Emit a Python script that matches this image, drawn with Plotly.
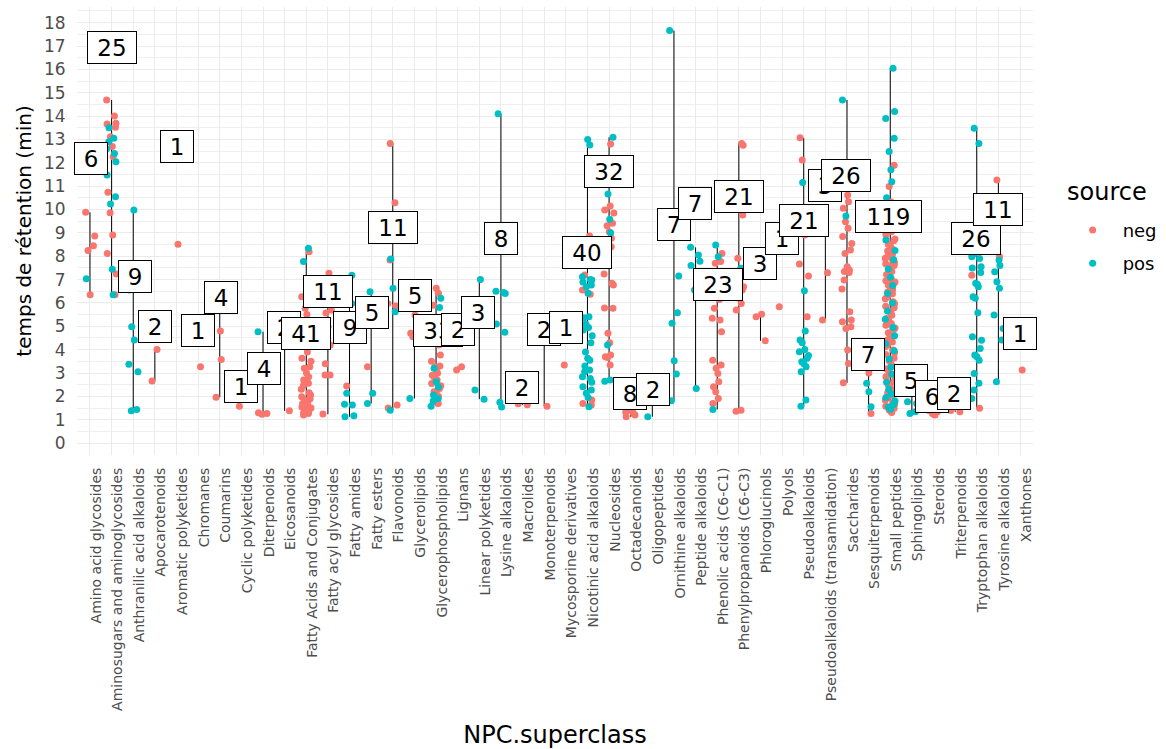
import plotly.graph_objects as go

# ---------------- data ----------------
CATEGORIES = [
    "Amino acid glycosides", "Aminosugars and aminoglycosides", "Anthranilic acid alkaloids",
    "Apocarotenoids", "Aromatic polyketides", "Chromanes", "Coumarins", "Cyclic polyketides",
    "Diterpenoids", "Eicosanoids", "Fatty Acids and Conjugates", "Fatty acyl glycosides",
    "Fatty amides", "Fatty esters", "Flavonoids", "Glycerolipids", "Glycerophospholipids",
    "Lignans", "Linear polyketides", "Lysine alkaloids", "Macrolides", "Monoterpenoids",
    "Mycosporine derivatives", "Nicotinic acid alkaloids", "Nucleosides", "Octadecanoids",
    "Oligopeptides", "Ornithine alkaloids", "Peptide alkaloids", "Phenolic acids (C6-C1)",
    "Phenylpropanoids (C6-C3)", "Phloroglucinols", "Polyols", "Pseudoalkaloids",
    "Pseudoalkaloids (transamidation)", "Saccharides", "Sesquiterpenoids", "Small peptides",
    "Sphingolipids", "Steroids", "Triterpenoids", "Tryptophan alkaloids", "Tyrosine alkaloids",
    "Xanthones",
]

COUNTS = [6, 25, 9, 2, 1, 1, 4, 1, 4, 2, 41, 11, 9, 5, 11, 5, 33, 2, 3, 8, 2, 2, 1, 40, 32, 8,
          2, 7, 7, 23, 21, 3, 1, 21, 3, 26, 7, 119, 5, 6, 2, 26, 11, 1]

# retention times (min), source = neg
NEG_RT = [
    [9.88, 8.87, 8.45, 8.24, 6.35],
    [14.69, 14.0, 13.69, 13.66, 13.52, 13.12, 12.7, 12.26, 10.74, 9.86, 8.91, 8.12, 7.24, 6.35],
    [],
    [4.01, 2.66],
    [8.51],
    [3.27],
    [6.34, 4.8, 3.58, 1.96],
    [1.58],
    [1.3, 1.27, 1.23],
    [1.38],
    [8.19, 6.8, 6.27, 6.05, 5.77, 5.5, 5.0, 4.7, 4.4, 3.9, 3.63, 3.5, 3.27, 3.2, 3.0, 2.84, 2.7,
     2.56, 2.48, 2.3, 2.15, 2.06, 1.98, 1.9, 1.84, 1.78, 1.7, 1.7, 1.63, 1.6, 1.55, 1.5, 1.49,
     1.45, 1.4, 1.34, 1.3, 1.27, 1.2],
    [7.27, 6.84, 6.0, 5.7, 5.57, 4.98, 4.2, 3.4, 2.91, 2.91, 1.24],
    [2.44],
    [3.27],
    [12.83, 10.29, 7.84, 5.98, 5.87, 1.63, 1.5],
    [5.48, 4.77, 4.7, 4.55],
    [6.63, 6.41, 5.9, 5.3, 4.8, 4.6, 4.2, 3.77, 3.5, 3.3, 3.27, 3.1, 2.99, 2.9, 2.8, 2.7, 2.55,
     2.45, 2.34, 2.2, 2.14, 2.0, 1.77, 1.7],
    [3.27, 3.13],
    [],
    [],
    [1.68, 1.64],
    [5.05, 1.58],
    [3.34],
    [8.87, 7.2, 6.55, 6.37, 1.85, 1.7, 1.63],
    [12.8, 11.7, 11.12, 10.15, 9.98, 9.85, 9.41, 9.3, 9.05, 8.77, 8.7, 8.41, 7.7, 7.24, 6.84,
     6.77, 5.78, 5.77, 4.7, 4.3, 3.77, 3.7, 3.66, 3.34],
    [1.8, 1.63, 1.5, 1.4, 1.33, 1.27, 1.2, 1.13],
    [],
    [],
    [],
    [8.12, 7.77, 7.7, 7.0, 6.5, 6.27, 6.15, 5.77, 5.34, 5.27, 4.77, 3.55, 3.34, 3.2, 2.98, 2.63,
     2.41, 2.2, 1.91, 1.7],
    [12.83, 12.75, 10.09, 9.76, 7.91, 7.41, 7.3, 7.12, 7.0, 6.91, 6.8, 6.69, 6.55, 6.41, 6.2,
     5.98, 5.7, 1.41, 1.36],
    [5.52, 5.41, 4.38],
    [5.84],
    [13.07, 12.12, 8.91, 7.67, 7.15, 5.41],
    [9.52, 7.29, 5.27],
    [10.62, 10.33, 10.05, 9.48, 9.2, 8.84, 8.55, 8.27, 8.12, 7.55, 7.41, 7.35, 7.3, 6.98, 6.6,
     5.62, 5.27, 5.2, 4.98, 4.91, 3.98, 3.41, 2.58],
    [3.0, 1.27],
    [11.9, 10.98, 10.33, 10.1, 9.62, 9.35, 9.05, 8.92, 8.74, 8.66, 8.51, 8.43, 8.3, 8.22, 8.08,
     7.97, 7.91, 7.8, 7.72, 7.68, 7.6, 7.55, 7.43, 7.35, 7.22, 7.14, 7.02, 6.95, 6.9, 6.83,
     6.77, 6.64, 6.58, 6.47, 6.39, 6.26, 6.18, 6.05, 5.98, 5.86, 5.79, 5.66, 5.58, 5.47, 5.33,
     5.25, 5.12, 5.04, 4.93, 4.86, 4.72, 4.61, 4.55, 4.42, 4.33, 4.2, 4.12, 3.98, 3.87, 3.79,
     3.64, 3.52, 3.41, 3.3, 3.18, 3.07, 2.96, 2.84, 2.71, 2.63, 2.5, 2.38, 2.27, 2.15, 2.04,
     1.93, 1.85, 1.74, 1.66, 1.58, 1.49, 1.42, 1.36, 1.31],
    [],
    [1.5, 1.4, 1.34, 1.27, 1.22, 1.2],
    [1.4, 1.34],
    [7.19, 1.49],
    [11.26, 7.98],
    [3.13],
]

# retention times (min), source = pos
POS_RT = [
    [7.04],
    [13.5, 13.05, 12.9, 12.6, 12.4, 12.05, 11.48, 10.55, 10.24, 7.44, 6.35],
    [9.98, 7.59, 6.55, 4.98, 4.41, 3.37, 3.05, 1.44, 1.38],
    [], [], [], [], [],
    [4.77],
    [5.27],
    [8.34, 7.77],
    [],
    [7.19, 6.05, 5.98, 2.13, 1.66, 1.63, 1.17, 1.13],
    [6.48, 5.05, 2.13, 1.7],
    [7.88, 6.63, 5.62, 1.41],
    [1.91],
    [6.2, 5.8, 3.2, 2.63, 2.4, 2.06, 1.91, 1.8, 1.58],
    [],
    [7.0, 2.27, 1.88],
    [14.1, 6.5, 6.45, 6.4, 5.1, 4.75, 1.75, 1.55],
    [], [], [],
    [13.0, 12.76, 8.3, 7.9, 7.6, 7.12, 7.0, 6.98, 6.9, 6.77, 6.69, 6.41, 5.41, 5.37, 5.1, 4.95,
     4.84, 4.6, 4.3, 3.9, 3.63, 3.55, 3.3, 3.13, 3.05, 2.84, 2.77, 2.6, 2.41, 2.27, 2.13, 1.95,
     1.56],
    [13.09, 10.66, 9.58, 9.0, 7.98, 4.2, 2.7, 2.65],
    [],
    [1.77, 1.13],
    [17.66, 7.15, 5.58, 5.13, 3.53, 2.96, 1.81],
    [8.38, 8.05, 7.79, 7.6, 7.19, 6.55, 2.34],
    [8.48, 7.98, 1.44],
    [7.48, 7.25],
    [], [],
    [11.16, 6.52, 4.8, 4.41, 4.3, 4.01, 3.91, 3.75, 3.63, 3.48, 3.4, 3.27, 3.05, 1.84, 1.58],
    [],
    [14.69, 10.9, 9.72],
    [3.85, 3.5, 2.56, 2.2, 1.56],
    [16.05, 14.2, 13.9, 13.05, 12.48, 11.7, 11.19, 10.5, 9.8, 9.3, 8.7, 8.25, 7.85, 7.45, 7.1,
     6.75, 6.4, 6.0, 5.65, 5.3, 4.95, 4.6, 4.25, 3.95, 3.6, 3.25, 2.95, 2.6, 2.3, 2.1, 1.95,
     1.8, 1.65, 1.55, 1.45],
    [2.4, 1.77, 1.7, 1.34, 1.27],
    [],
    [],
    [13.48, 12.83, 8.1, 7.98, 7.9, 7.55, 7.5, 7.3, 6.84, 6.8, 6.69, 6.27, 6.2, 5.58, 4.55, 4.4,
     4.05, 3.77, 3.7, 3.55, 2.98, 2.56, 2.27, 1.91],
    [7.84, 7.6, 7.34, 6.91, 6.63, 5.48, 4.91, 4.41, 2.63],
    [],
]

# where the count labels sit (category units, minutes)
LABEL_X = [0.04, 1.03, 2.06, 3.01, 4.03, 5.01, 6.04, 6.98, 8.04, 8.99, 10.0, 11.0, 12.0, 13.02,
           14.02, 15.01, 16.07, 17.02, 17.96, 19.01, 19.96, 20.99, 21.99, 22.97, 23.99, 24.98,
           26.03, 27.0, 27.99, 29.02, 29.99, 30.98, 32.0, 33.0, 33.99, 34.96, 35.97, 36.94,
           37.98, 38.95, 39.96, 40.96, 41.97, 42.98]
LABEL_Y = [12.2, 16.92, 7.12, 4.98, 12.71, 4.84, 6.22, 2.41, 3.18, 4.97, 4.7, 6.49, 4.97, 5.59,
           9.21, 6.34, 4.82, 4.85, 5.6, 8.78, 2.38, 4.85, 4.97, 8.17, 11.62, 2.14, 2.28, 9.36,
           10.24, 6.79, 10.57, 7.67, 8.78, 9.52, 11.04, 11.46, 3.78, 9.68, 2.7, 1.98, 2.14,
           8.77, 9.98, 4.7]

# ---------------- style ----------------
COL_NEG = "#F8766D"
COL_POS = "#00BFC4"
FONT = "DejaVu Sans"
JITTER = [-0.2, 0.1, -0.05, 0.22, -0.13, 0.03, 0.16, -0.23, 0.07, -0.09, 0.13, -0.17, 0.01,
          0.2, -0.07, 0.11, -0.21, 0.05, -0.12, 0.18]

fig = go.Figure()

# range line per category (min..max of all points)
lx, ly = [], []
for i in range(len(CATEGORIES)):
    vals = NEG_RT[i] + POS_RT[i]
    if len(vals) > 1:
        lx += [i, i, None]
        ly += [min(vals), max(vals), None]
fig.add_trace(go.Scatter(x=lx, y=ly, mode="lines", line=dict(color="black", width=1),
                         showlegend=False, hoverinfo="skip"))


def jittered(lists, offset):
    xs, ys = [], []
    for i, vals in enumerate(lists):
        for k, v in enumerate(vals):
            xs.append(i + JITTER[(k * 3 + i * 7 + offset) % len(JITTER)])
            ys.append(v)
    return xs, ys


nx, ny = jittered(NEG_RT, 0)
px, py = jittered(POS_RT, 11)
fig.add_trace(go.Scatter(x=nx, y=ny, mode="markers", name="neg", legendgroup="neg",
                         marker=dict(color=COL_NEG, size=7, line=dict(width=0))))
fig.add_trace(go.Scatter(x=px, y=py, mode="markers", name="pos", legendgroup="pos",
                         marker=dict(color=COL_POS, size=7, line=dict(width=0))))

annotations = []
for i, c in enumerate(COUNTS):
    txt = str(c)
    outer_w = {1: 34, 2: 50, 3: 67}[len(txt)]
    annotations.append(dict(
        x=LABEL_X[i], y=LABEL_Y[i], xref="x", yref="y", text=txt, showarrow=False,
        font=dict(family=FONT, size=23, color="black"),
        bgcolor="white", bordercolor="black", borderwidth=1, borderpad=1,
        width=outer_w - 4, height=29,
    ))

# legend title as its own text
annotations.append(dict(
    x=1.0335, y=0.587, xref="paper", yref="paper", xanchor="left", yanchor="middle",
    text="source", showarrow=False, font=dict(family=FONT, size=24, color="black"),
))

fig.update_layout(
    width=1166, height=749,
    margin=dict(l=77, r=133, t=7, b=294, autoexpand=False),
    paper_bgcolor="white", plot_bgcolor="white",
    font=dict(family=FONT, color="black"),
    annotations=annotations,
    showlegend=True,
    legend=dict(
        font=dict(family=FONT, size=18, color="black"),
        x=1.031, xanchor="left", y=0.543, yanchor="top",
        tracegroupgap=7, itemwidth=50, bgcolor="rgba(0,0,0,0)",
    ),
    xaxis=dict(
        range=[-0.6, 43.6], tickmode="array", tickvals=list(range(len(CATEGORIES))),
        ticktext=CATEGORIES, tickangle=-90, showgrid=True, gridcolor="#EBEBEB", gridwidth=1,
        zeroline=False, showline=False, ticks="outside", ticklen=6,
        tickcolor="rgba(0,0,0,0)", automargin=False,
        tickfont=dict(family=FONT, size=14, color="#4D4D4D"),
        ticklabelshift=6,
        title=dict(text="NPC.superclass", font=dict(family=FONT, size=24, color="black"),
                   standoff=19),
    ),
    yaxis=dict(
        range=[-0.51, 18.67], tickmode="linear", tick0=0, dtick=1, showgrid=True,
        gridcolor="#EBEBEB", gridwidth=1, zeroline=False, showline=False,
        ticks="outside", ticklen=7, tickcolor="rgba(0,0,0,0)", automargin=False,
        tickfont=dict(family=FONT, size=17, color="#4D4D4D"),
        minor=dict(dtick=0.5, showgrid=True, gridcolor="#EFEFEF", gridwidth=0.6),
        title=dict(text="temps de rétention (min)", font=dict(family=FONT, size=20, color="black"),
                   standoff=6),
    ),
)

# the page body has no margin, so the figure sits at the window's top-left corner
fig.write_html("out.html", config={"displayModeBar": False},
               post_script="document.body.style.margin='0';")
